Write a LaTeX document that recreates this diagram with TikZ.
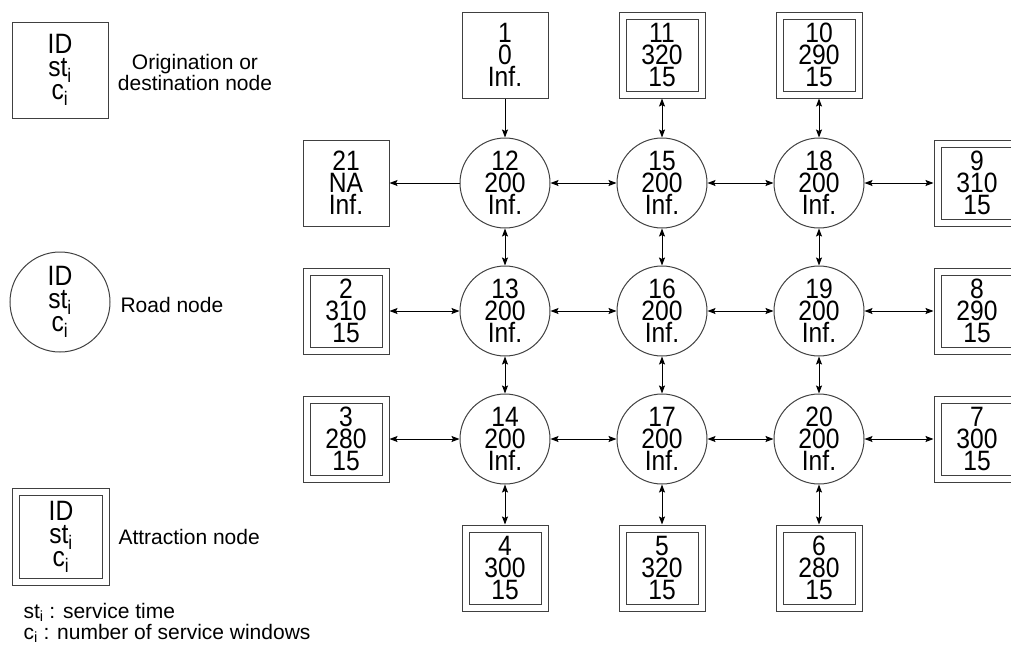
\documentclass[tikz,border=0pt]{standalone}
\usepackage{fontspec}
\setmainfont{Liberation Sans}
\newfontfamily\tallfont[FakeStretch=0.88]{Liberation Sans}
\usetikzlibrary{arrows.meta}

\begin{document}
\begin{tikzpicture}[x=1pt,y=-1pt,line width=1pt,
    >={Stealth[length=8pt,width=6pt,inset=1.5pt]},
    big/.style={font={\tallfont\fontsize{28pt}{22pt}\selectfont},align=center,inner sep=0pt},
    road/.style={big,draw=black!75,circle,minimum size=90pt},
    odbox/.style={big,draw=black!75,rectangle,minimum size=86pt},
    attrbox/.style={big,draw=black!75,double,double distance=6pt,rectangle,
        minimum size=79pt,outer sep=4pt},
    legbig/.style={font={\tallfont\fontsize{28pt}{23pt}\selectfont}},
    lab/.style={font={\fontsize{21pt}{21pt}\selectfont},align=center,inner sep=0pt}]
\useasboundingbox (0,0) rectangle (1011,662);

\node[odbox,legbig,minimum size=96pt] (legod) at (60,70)
    {ID\\st\textsubscript{i}\\c\textsubscript{i}};
\node[lab] (legodtext) at (195,72) {Origination or\\destination node};
\node[road,legbig,minimum size=100pt] (legroad) at (60,302)
    {ID\\st\textsubscript{i}\\c\textsubscript{i}};
\node[lab,anchor=west] (legroadtext) at (120,305) {Road node};
\node[attrbox,legbig,minimum size=90pt] (legattr) at (61,537)
    {ID\\st\textsubscript{i}\\c\textsubscript{i}};
\node[lab,anchor=west] (legattrtext) at (118,537) {Attraction node};
\node[lab,anchor=base west] (legst) at (23,618) {st\textsubscript{i} : service time};
\node[lab,anchor=base west] (legc) at (23,639) {c\textsubscript{i} : number of service windows};

\foreach \c/\x in {0/505,1/662,2/819} {
    \foreach \r/\y in {0/183,1/311,2/439} {
        \pgfmathtruncatemacro\id{12+3*\c+\r}
        \node[road] (r\id) at (\x,\y) {\id\\200\\Inf.};
    }
}
\foreach \a/\b in {12/15,15/18,13/16,16/19,14/17,17/20,12/13,13/14,15/16,16/17,18/19,19/20} {
    \draw[<->] (r\a) -- (r\b);
}

\node[odbox] (o1) at (505,55) {1\\0\\Inf.};
\node[odbox] (o21) at (346,183) {21\\NA\\Inf.};
\draw[->] (o1) -- (r12);
\draw[->] (r12) -- (o21);

\foreach \id/\x/\y/\st/\rd in {11/662/55/320/15,10/819/55/290/18,9/977/183/310/18,
    8/977/311/290/19,7/977/439/300/20,4/505/568/300/14,5/662/568/320/17,
    6/819/568/280/20,2/346/311/310/13,3/346/439/280/14} {
    \node[attrbox] (a\id) at (\x,\y) {\id\\\st\\15};
    \draw[<->] (a\id) -- (r\rd);
}
\end{tikzpicture}
\end{document}
